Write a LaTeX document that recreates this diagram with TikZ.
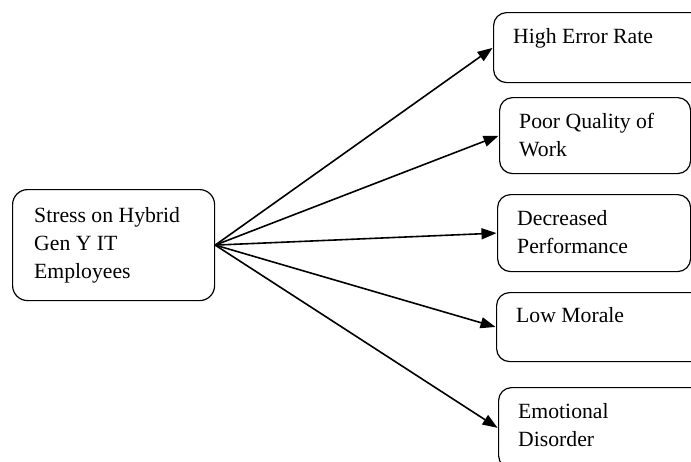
\documentclass[tikz,border=0pt]{standalone}
\usepackage{fontspec}
\setmainfont{Liberation Serif}
\usetikzlibrary{arrows.meta}
\tikzset{
  box/.style={draw, line width=1.2pt, rounded corners=13pt, inner sep=0pt, anchor=north west},
  txt/.style={anchor=north west, inner sep=0pt, align=left, font=\fontsize{21.7}{28}\selectfont},
  arr/.style={line width=1.6pt, -{Triangle[length=15pt,width=11pt]}, shorten >=0.5pt}
}
\newcommand{\fl}{\rule{0pt}{16pt}}
\begin{document}
\begin{tikzpicture}[x=1pt,y=-1pt]
\useasboundingbox (0,0) rectangle (691,461);
\clip (0,0) rectangle (691,461);
\node[box, rounded corners=15pt, minimum width=202pt, minimum height=111pt] (srcbox) at (12,189) {};
\node[txt] (srct) at (34,206) {\fl Stress on Hybrid\\Gen Y IT\\Employees};
\node[box, minimum width=227pt, minimum height=70pt] (b1) at (493,12) {};
\node[txt] (t1) at (513,27) {\fl High Error Rate};
\node[box, minimum width=191pt, minimum height=76pt] (b2) at (499,97) {};
\node[txt] (t2) at (519,112) {\fl Poor Quality of\\Work};
\node[box, minimum width=193pt, minimum height=77pt] (b3) at (497,194) {};
\node[txt] (t3) at (517,209) {\fl Decreased\\Performance};
\node[box, minimum width=224pt, minimum height=69pt] (b4) at (496,292) {};
\node[txt] (t4) at (516,306) {\fl Low Morale};
\node[box, minimum width=222pt, minimum height=81pt] (b5) at (498,387) {};
\node[txt] (t5) at (518,402) {\fl Emotional\\Disorder};
\foreach \b in {b1,b2,b3,b4,b5} \draw[arr] (srcbox.east) -- (\b.west);
\end{tikzpicture}
\end{document}
